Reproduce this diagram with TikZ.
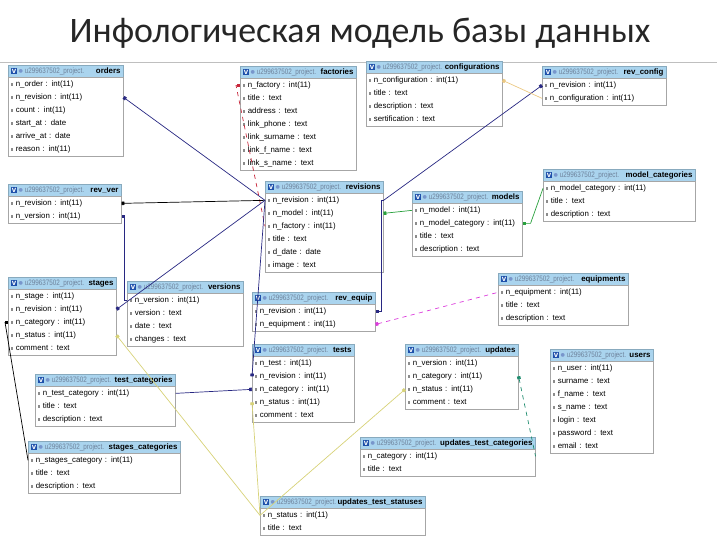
\documentclass[tikz,border=0pt]{standalone}
\usepackage{fontspec}
\setmainfont{Liberation Sans}
\newfontfamily\titlefont{Carlito}
\usepackage{graphicx}
\usetikzlibrary{positioning, calc, arrows.meta}
\definecolor{hdrblue}{RGB}{170,212,238}
\definecolor{iconblue}{RGB}{30,80,170}
\definecolor{linknavy}{RGB}{40,40,130}
\definecolor{linkred}{RGB}{200,40,60}
\definecolor{linkgreen}{RGB}{40,160,60}
\definecolor{linkyellow}{RGB}{215,210,120}
\definecolor{linkorange}{RGB}{235,200,130}
\definecolor{linkpink}{RGB}{220,60,220}
\definecolor{linkteal}{RGB}{30,140,110}
\definecolor{prefixgray}{RGB}{110,130,155}

% header icons and row marker
\newcommand{\hdicons}{{\setlength{\fboxsep}{0.5pt}\colorbox{iconblue}{\textcolor{white}{\textbf{v}}}}\,\textcolor{iconblue!60}{$\bullet$}}
\newcommand{\rowmark}{\textcolor{black!45}{\rule[0.4pt]{1.5pt}{2.2pt}}}

% one table: name, top left, width (px), title, rows
\newcommand{\dbtable}[5]{%
  \node[tblhead, minimum width={#3*0.025cm}, text width={#3*0.025cm-4pt}, anchor=north west] (#1) at #2
    {\hdicons\,\textcolor{prefixgray}{\scalebox{0.8}[1]{u299637502\_project.}}\hfill\textbf{#4}};
  \foreach \r [count=\i] in {#5} {
    \node[tblrow, text width={#3*0.025cm-4pt}, anchor=north west] (#1-\i)
      at ($(#1.south west)+(0,{(\i-1)*13})$) {\rowmark\ \r};
    \xdef\lastrow{\i}
  }
  \draw[tblframe] (#1.south west) rectangle (#1-\lastrow.south east);
}

\begin{document}
\begin{tikzpicture}[x=0.025cm, y=-0.025cm]
    % Styles
    \tikzstyle{tblhead} = [rectangle, fill=hdrblue, draw=hdrblue!80!black, minimum height=0.3cm, inner sep=0pt, inner xsep=2pt, align=left, font=\fontsize{5.6}{6.5}\selectfont]
    \tikzstyle{tblrow} = [rectangle, minimum height=0.325cm, inner sep=0pt, inner xsep=2pt, align=left, text height=4.2pt, text depth=1.2pt, font=\fontsize{5.6}{6.5}\selectfont]
    \tikzstyle{tblframe} = [draw=black!35, line width=0.4pt]
    \tikzstyle{link} = [line width=0.5pt, {Square[length=2pt,width=2.4pt]}-]

    \useasboundingbox (0,0) rectangle (720,540);

    % Title
    \node[font=\titlefont\fontsize{25.5}{28}\selectfont, text=black!85] (title) at (360,33) {Инфологическая модель базы данных};
    \draw[black!25] (0,62) -- (717,62);

    % Tables
    \dbtable{orders}{(8,65)}{115}{orders}{n\_order : int(11), n\_revision : int(11), count : int(11), start\_at : date, arrive\_at : date, reason : int(11)}
    \dbtable{factories}{(240,66)}{116}{factories}{n\_factory : int(11), title : text, address : text, link\_phone : text, link\_surname : text, link\_f\_name : text, link\_s\_name : text}
    \dbtable{configurations}{(366,61)}{136}{configurations}{n\_configuration : int(11), title : text, description : text, sertification : text}
    \dbtable{revconfig}{(542,66)}{124}{rev\_config}{n\_revision : int(11), n\_configuration : int(11)}
    \dbtable{revver}{(8,184)}{113}{rev\_ver}{n\_revision : int(11), n\_version : int(11)}
    \dbtable{revisions}{(265,181)}{118}{revisions}{n\_revision : int(11), n\_model : int(11), n\_factory : int(11), title : text, d\_date : date, image : text}
    \dbtable{models}{(412,191)}{110}{models}{n\_model : int(11), n\_model\_category : int(11), title : text, description : text}
    \dbtable{modelcat}{(543,169)}{152}{model\_categories}{n\_model\_category : int(11), title : text, description : text}
    \dbtable{stages}{(8,277)}{108}{stages}{n\_stage : int(11), n\_revision : int(11), n\_category : int(11), n\_status : int(11), comment : text}
    \dbtable{versions}{(127,281)}{116}{versions}{n\_version : int(11), version : text, date : text, changes : text}
    \dbtable{revequip}{(252,292)}{123}{rev\_equip}{n\_revision : int(11), n\_equipment : int(11)}
    \dbtable{equipments}{(498,273)}{130}{equipments}{n\_equipment : int(11), title : text, description : text}
    \dbtable{tests}{(252,344)}{102}{tests}{n\_test : int(11), n\_revision : int(11), n\_category : int(11), n\_status : int(11), comment : text}
    \dbtable{updates}{(405,344)}{113}{updates}{n\_version : int(11), n\_category : int(11), n\_status : int(11), comment : text}
    \dbtable{users}{(550,349)}{103}{users}{n\_user : int(11), surname : text, f\_name : text, s\_name : text, login : text, password : text, email : text}
    \dbtable{testcat}{(35,374)}{140}{test\_categories}{n\_test\_category : int(11), title : text, description : text}
    \dbtable{stagecat}{(28,441)}{152}{stages\_categories}{n\_stages\_category : int(11), title : text, description : text}
    \dbtable{updtestcat}{(360,437)}{175}{updates\_test\_categories}{n\_category : int(11), title : text}
    \dbtable{updteststat}{(260,496)}{165}{updates\_test\_statuses}{n\_status : int(11), title : text}

    % Connections
    \draw[link, linknavy] (orders-2.east) -- (revisions-1.west);
    \draw[link, linkred, dashed] (factories-1.west) -- ++(-4,0) -- (revisions-3.west);
    \draw[link, black] (revver-1.east) -- (revisions-1.west);
    \draw[link, linknavy] (revver-2.east) -- ++(3,0) |- (versions-1.west);
    \draw[link, linknavy] (revconfig-1.west) -- (revisions-1.east);
    \draw[link, linkorange] (configurations-1.east) -- (revconfig-2.west);
    \draw[link, linkgreen] (revisions-2.east) -- (models-1.west);
    \draw[link, linkgreen] (models-2.east) -- ++(8,0) -- (modelcat-1.west);
    \draw[link, linknavy] (revequip-1.east) -- ++(6,0) |- (revisions-1.east);
    \draw[link, linkpink, dashed] (revequip-2.east) -- (equipments-1.west);
    \draw[link, linknavy] (stages-2.east) -- (revisions-1.west);
    \draw[link, black] (stages-3.west) -- ++(-3,0) -- (stagecat-1.west);
    \draw[link, linkyellow] (stages-4.east) -- (updteststat-1.west);
    \draw[link, linkyellow] (tests-4.west) -- (updteststat-1.west);
    \draw[link, linkyellow] (updates-3.west) -- (updteststat-1.west);
    \draw[link, linkteal, dashed] (updates-2.east) -- (updtestcat-1.east);
    \draw[link, linknavy] (tests-3.west) -- (testcat-1.east);
    \draw[link, linknavy] (tests-2.west) -- (revisions-1.west);
\end{tikzpicture}
\end{document}
